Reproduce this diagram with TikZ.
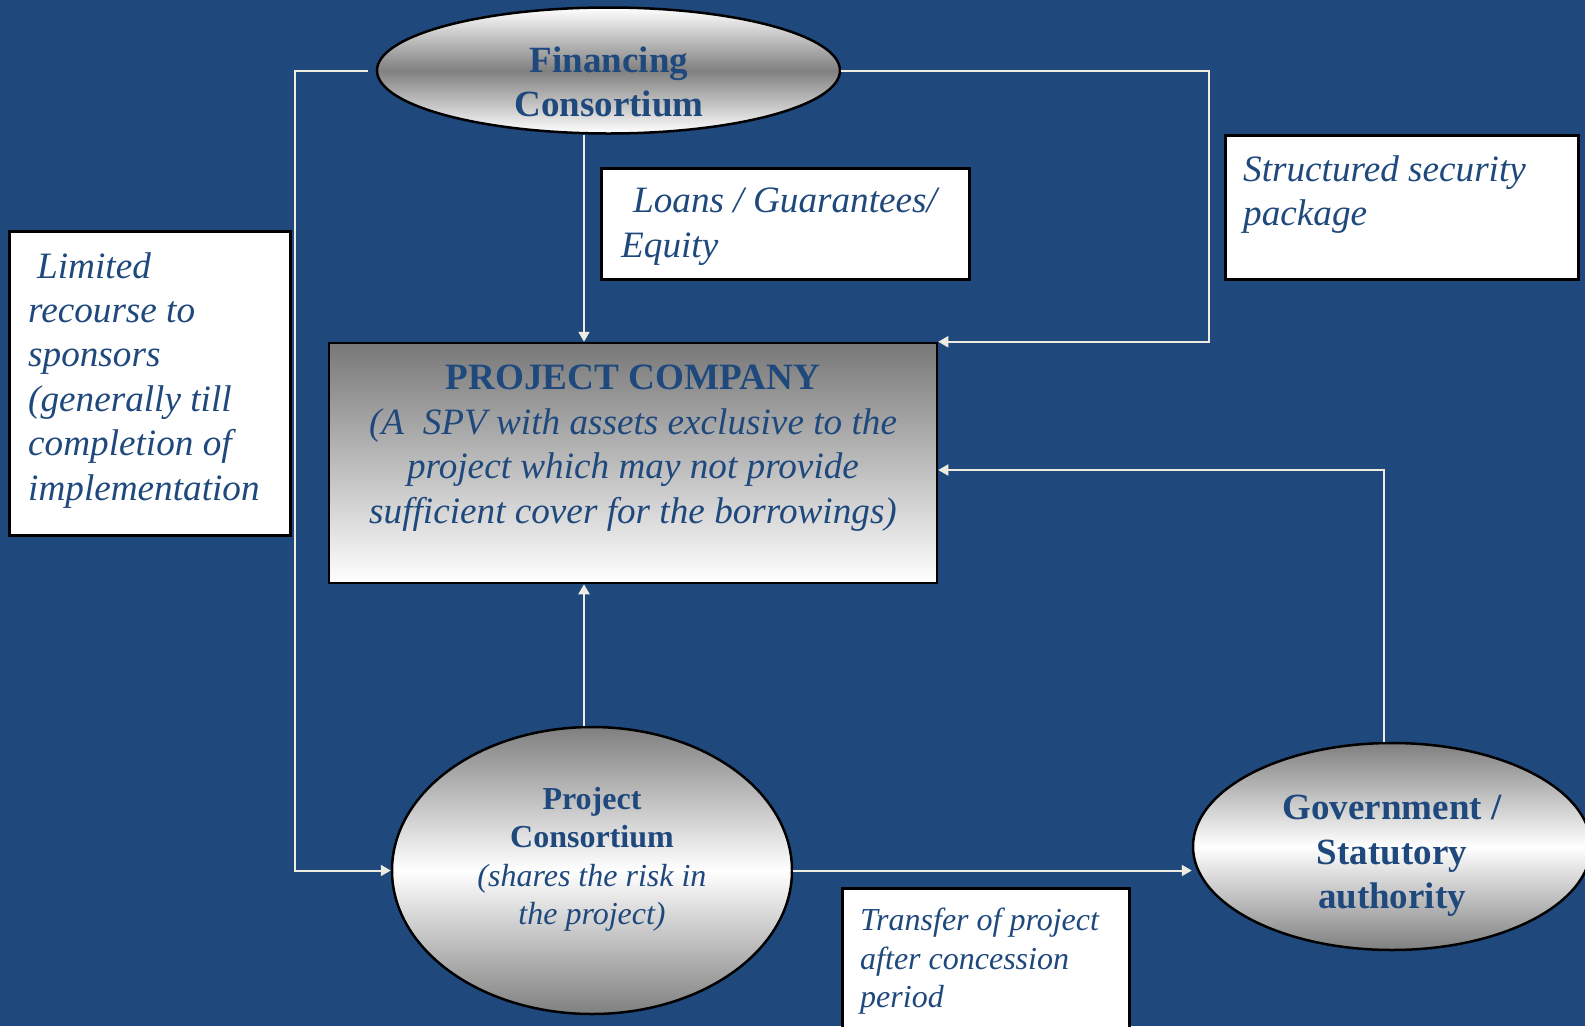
\documentclass[tikz,border=0pt]{standalone}
\usepackage{fontspec}
\setmainfont{Liberation Serif}
\usetikzlibrary{shapes.geometric,arrows.meta,calc}
\definecolor{bgblue}{HTML}{1F497D}
\definecolor{txtblue}{HTML}{1F497D}
\definecolor{linecol}{HTML}{EEECE1}
\definecolor{midgray}{gray}{0.5}
\definecolor{topgray}{gray}{0.47}
\begin{document}
\begin{tikzpicture}[x=1pt,y=-1pt,
  conn/.style={draw=linecol,line width=2pt},
  arr/.style={conn,-{Triangle[width=11pt,length=10pt]}},
  ell/.style={ellipse,draw=black,line width=2.5pt,inner sep=0pt},
  boxw/.style={rectangle,draw=black,line width=2.5pt,fill=white,inner sep=0pt,anchor=north west},
  bigtxt/.style={font=\fontsize{37.2}{44.4}\selectfont,text=txtblue,inner sep=0pt},
  smalltxt/.style={font=\fontsize{32}{38.4}\selectfont,text=txtblue,inner sep=0pt},
]
\fill[bgblue] (0,0) rectangle (1585,1026);
\useasboundingbox (0,0) rectangle (1585,1026);
\clip (0,0) rectangle (1585,1026);

% main shapes
\node[ell,minimum width=463pt,minimum height=126pt,top color=white,bottom color=white,middle color=midgray] (fin) at (608.5,70.5) {};
\node[rectangle,draw=black,line width=2.5pt,inner sep=0pt,minimum width=608pt,minimum height=240pt,top color=topgray,bottom color=white] (company) at (633,463) {};
\node[ell,minimum width=400pt,minimum height=287pt,top color=midgray,bottom color=midgray,middle color=white] (pc) at (592,870.5) {};
\node[ell,minimum width=398pt,minimum height=207pt,top color=midgray,bottom color=midgray,middle color=white] (gov) at (1392,846.5) {};

% label boxes
\node[boxw,minimum width=368pt,minimum height=111pt] (loans) at (600,167) {};
\node[boxw,minimum width=353pt,minimum height=144pt] (struct) at (1224,134) {};
\node[boxw,minimum width=281pt,minimum height=304pt] (limited) at (8,230) {};
\node[boxw,minimum width=287pt,minimum height=170pt] (transfer) at (841,887) {};

% texts
\node[bigtxt,font=\fontsize{37}{43.5}\selectfont\bfseries,anchor=north,align=center] (fintxt) at (609,47) {Financing\\Consortium};
\node[bigtxt,anchor=north,align=center] (comptxt) at (633,365) {\textbf{PROJECT COMPANY}\\\textit{(A\ \ SPV with assets exclusive to the}\\\textit{project which may not provide}\\\textit{sufficient cover for the borrowings)}};
\node[smalltxt,anchor=north,align=center] (pctxt) at (592,787) {\textbf{Project}\\\textbf{Consortium}\\\textit{(shares the risk in}\\\textit{the project)}};
\node[bigtxt,font=\fontsize{37}{44.5}\selectfont\bfseries,anchor=north,align=center] (govtxt) at (1392,795) {Government /\\Statutory\\authority};

\node[bigtxt,font=\fontsize{37.2}{44.4}\selectfont\itshape,anchor=north west,align=left] (loanstxt) at ($(loans.north west)+(21,21)$) {\hspace*{12pt}Loans / Guarantees/\\Equity};
\node[bigtxt,font=\fontsize{37.2}{44.4}\selectfont\itshape,anchor=north west,align=left] (structtxt) at ($(struct.north west)+(19,21)$) {Structured security\\package};
\node[bigtxt,font=\fontsize{37.2}{44.4}\selectfont\itshape,anchor=north west,align=left] (limtxt) at ($(limited.north west)+(20,22)$) {\hspace*{9pt}Limited\\recourse to\\sponsors\\(generally till\\completion of\\implementation};
\node[smalltxt,font=\fontsize{32}{38.4}\selectfont\itshape,anchor=north west,align=left] (transtxt) at ($(transfer.north west)+(19,21)$) {Transfer of project\\after concession\\period};

% connectors
\coordinate (vx) at (584,0);
\coordinate (r1) at (1209,70.5);
\coordinate (g1) at (1384,470);
\draw[arr] ([xshift=-8pt]fin.west) -- ++(-73,0) |- (pc.west);
\draw[arr] (fin.east) -- (r1) |- (company.north east);
\draw[arr] (fin.south -| vx) -- (company.north -| vx);
\draw[arr] (pc.north -| vx) -- (company.south -| vx);
\draw[arr] (pc.east) -- (pc.east -| gov.west);
\draw[arr] (gov.north -| g1) -- (g1) -- (company.east |- g1);
\end{tikzpicture}
\end{document}
